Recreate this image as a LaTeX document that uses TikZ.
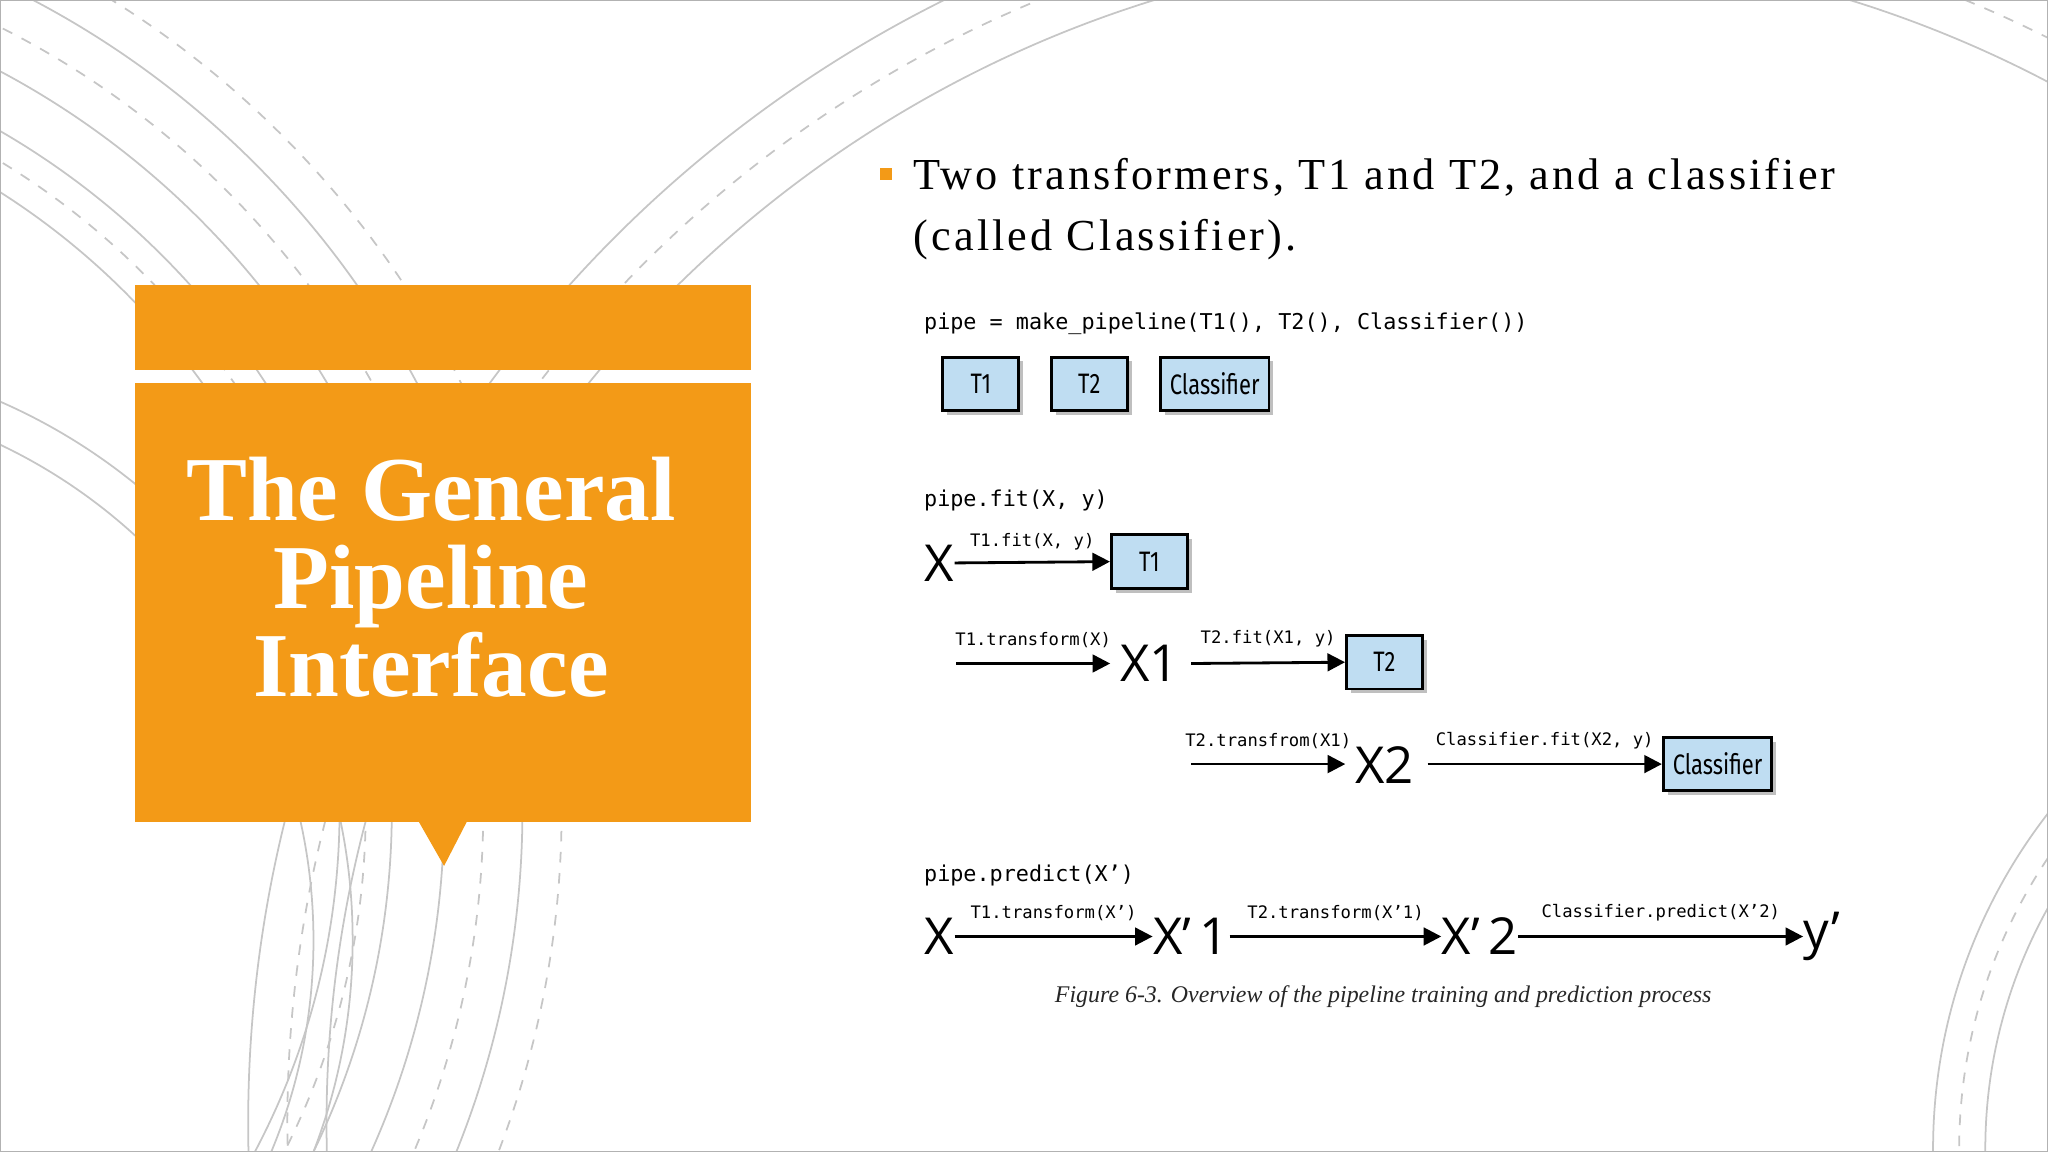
\documentclass[tikz,border=0pt]{standalone}
\usepackage{fontspec}
\setmainfont{Liberation Serif}
\newfontfamily\monof{DejaVu Sans Mono}
\newfontfamily\boxf[FakeStretch=0.78]{Fira Sans}
\newfontfamily\bigf{Open Sans}
\newfontfamily\bulf[LetterSpace=7]{Liberation Serif}
\usetikzlibrary{shadows,arrows.meta}
\definecolor{orng}{HTML}{F39A17}
\definecolor{lblue}{HTML}{BFDDF2}
\begin{document}
\begin{tikzpicture}[x=0.013061cm,y=-0.013061cm,
  arc/.style={gray!45,line width=0.5pt},
  arcd/.style={gray!45,line width=0.5pt,dashed},
  pbox/.style={draw=black,line width=0.8pt,fill=lblue,inner sep=0pt,minimum height=0.535cm,font=\boxf\fontsize{8}{9}\selectfont,drop shadow={shadow xshift=1.2pt,shadow yshift=-1.2pt,opacity=0.5}},
  mono/.style={font=\monof\fontsize{6.2}{7}\selectfont,inner sep=0pt},
  lab/.style={font=\monof\fontsize{4.9}{6}\selectfont,inner sep=0pt},
  big/.style={font=\bigf\fontsize{14.5}{16}\selectfont,inner sep=0pt},
  arr/.style={-{Triangle[length=5pt,width=5pt]},line width=0.8pt}]
\useasboundingbox (0,0) rectangle (1568,882);
\begin{scope}
\clip (0,0) rectangle (1568,882);
\foreach \r in {560,600,640,700} \draw[arc] (-300,620) circle (\r);
\foreach \r in {580,670,730} \draw[arcd] (-300,620) circle (\r);
\foreach \r in {420,450} \draw[arc] (-180,720) circle (\r);
\foreach \r in {900,960} \draw[arc] (1150,860) circle (\r);
\draw[arcd] (1150,860) circle (930);
\foreach \r in {380,420} \draw[arc] (1900,880) circle (\r);
\draw[arcd] (1900,880) circle (400);
\end{scope}
\draw[gray!60,line width=0.6pt] (0,0) rectangle (1568,882);
% banner
\fill[orng] (103,218) rectangle (575,283);
\fill[orng] (103,293) rectangle (575,629);
\fill[orng] (320,628) -- (358,628) -- (340,663) -- cycle;
\node[text=white,align=center,font=\bfseries\fontsize{26}{25}\selectfont] (title) at (330,442) {The General\\Pipeline\\Interface};
% bullet
\fill[orng] (674,129) rectangle (683,138);
\node[anchor=west,inner sep=0pt,align=left,font=\bulf\fontsize{12.6}{17.5}\selectfont] (bul) at (699,160) {Two transformers, T1 and T2, and a classifier\\(called Classifier).};
% top
\node[mono,anchor=west] (mp) at (707,248) {pipe = make\_pipeline(T1(), T2(), Classifier())};
\node[pbox,minimum width=0.76cm] (b1) at (751,294) {T1};
\node[pbox,minimum width=0.76cm] (b2) at (834,294) {T2};
\node[pbox,minimum width=1.085cm] (b3) at (930,294) {Classifier};
% fit
\node[mono,anchor=west] (pf) at (707,383) {pipe.fit(X, y)};
\node[big] (x0) at (719,431) {X};
\node[pbox,minimum width=0.76cm] (f1) at (880,430) {T1};
\draw[arr] (x0.east) -- (f1.west) node[lab,midway,above=3pt] {T1.fit(X, y)};
\node[big] (x1) at (880,508) {X1};
\coordinate (s1) at (732,508);
\coordinate (t1) at (850,508);
\draw[arr] (s1) -- (t1) node[lab,midway,above=4pt] {T1.transform(X)};
\node[pbox,minimum width=0.76cm] (f2) at (1060,507) {T2};
\coordinate (e1) at (912,508);
\draw[arr] (e1) -- (f2.west) node[lab,midway,above=4pt] {T2.fit(X1, y)};
\node[big] (x2) at (1060,586) {X2};
\coordinate (s2) at (912,585);
\coordinate (t2) at (1030,585);
\draw[arr] (s2) -- (t2) node[lab,midway,above=4pt] {T2.transfrom(X1)};
\node[pbox,minimum width=1.085cm] (f3) at (1315,585) {Classifier};
\coordinate (e2) at (1093,585);
\draw[arr] (e2) -- (f3.west) node[lab,midway,above=4pt] {Classifier.fit(X2, y)};
% predict
\node[mono,anchor=west] (pp) at (707,670) {pipe.predict(X’)};
\node[big] (p0) at (719,717) {X};
\node[big] (p1) at (912,717) {X’\,1};
\node[big] (p2) at (1133,717) {X’\,2};
\node[big] (p3) at (1395,717) {y’};
\draw[arr] (p0.east) -- (p1.west) node[lab,midway,above=4pt] {T1.transform(X’)};
\draw[arr] (p1.east) -- (p2.west) node[lab,midway,above=4pt] {T2.transform(X’1)};
\draw[arr] (p2.east) -- (p3.west) node[lab,midway,above=4pt] {Classifier.predict(X’2)};
\node[font=\itshape\fontsize{6.8}{8}\selectfont,text=black!85] (cap) at (1059,763) {Figure 6-3. Overview of the pipeline training and prediction process};
\end{tikzpicture}
\end{document}
